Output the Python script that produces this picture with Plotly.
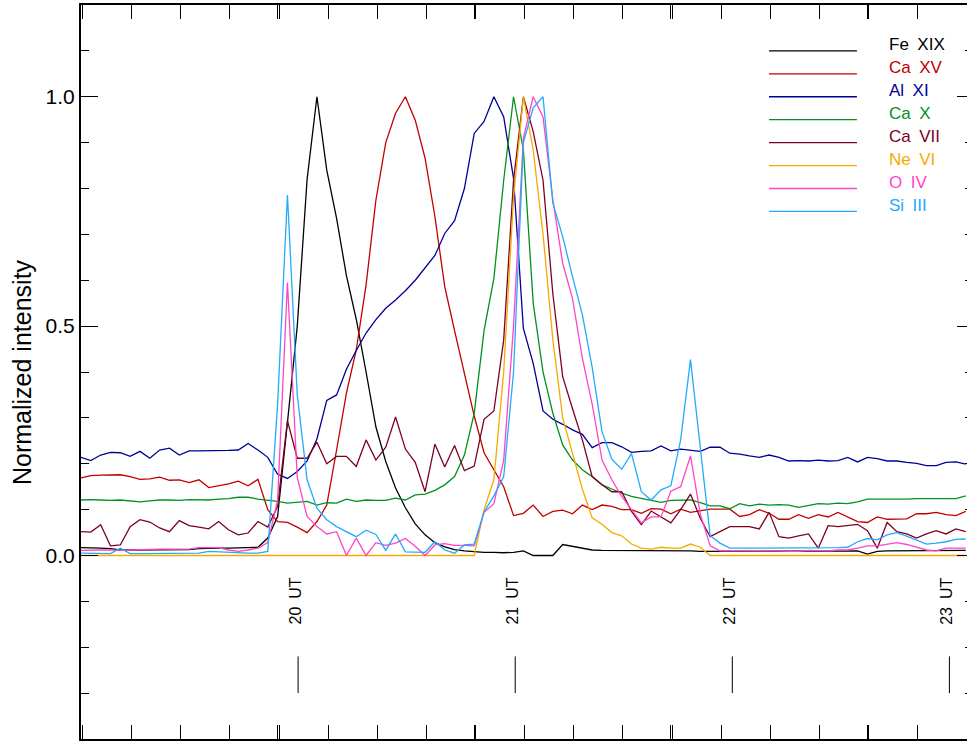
import plotly.graph_objects as go

# ---------------- data ----------------
start_ut = 19.0          # first sample (hours UT)
cadence_h = 0.04528      # sampling cadence in hours (~2.7 min)
n_samples = 91
times = [start_ut + i * cadence_h for i in range(n_samples)]

fe_xix = [0.017, 0.017, 0.016, 0.015, 0.012, 0.012, 0.012, 0.012, 0.012, 0.012,
          0.013, 0.013, 0.015, 0.016, 0.016, 0.016, 0.017, 0.017, 0.018, 0.038,
          0.085, 0.29, 0.50, 0.82, 1.0, 0.84, 0.735, 0.61, 0.515, 0.40,
          0.28, 0.205, 0.147, 0.104, 0.069, 0.045, 0.028, 0.019, 0.013, 0.010,
          0.008, 0.007, 0.007, 0.006, 0.007, 0.010, 0.0, 0.0, 0.0, 0.024,
          0.020, 0.015, 0.012, 0.011, 0.011, 0.010, 0.010, 0.010, 0.010, 0.010,
          0.010, 0.010, 0.010, 0.009, 0.009, 0.009, 0.009, 0.009, 0.009, 0.009,
          0.009, 0.009, 0.009, 0.009, 0.009, 0.009, 0.009, 0.009, 0.009, 0.010,
          0.003, 0.009, 0.010, 0.010, 0.010, 0.010, 0.010, 0.011, 0.011, 0.011, 0.011]

ca_xv = [0.169, 0.174, 0.175, 0.176, 0.176, 0.172, 0.166, 0.167, 0.171, 0.164,
         0.165, 0.159, 0.165, 0.148, 0.152, 0.156, 0.162, 0.152, 0.166, 0.10,
         0.074, 0.072, 0.062, 0.05, 0.074, 0.11, 0.23, 0.354, 0.448, 0.59,
         0.775, 0.90, 0.964, 1.0, 0.949, 0.866, 0.739, 0.586, 0.49, 0.394,
         0.304, 0.224, 0.187, 0.15, 0.087, 0.092, 0.11, 0.085, 0.096, 0.099,
         0.091, 0.11, 0.10, 0.11, 0.107, 0.10, 0.10, 0.092, 0.102, 0.101,
         0.091, 0.101, 0.094, 0.098, 0.101, 0.101, 0.101, 0.085, 0.089, 0.10,
         0.092, 0.079, 0.079, 0.089, 0.081, 0.089, 0.084, 0.094, 0.084, 0.074,
         0.072, 0.084, 0.079, 0.079, 0.08, 0.091, 0.091, 0.094, 0.089, 0.087, 0.096]

al_xi = [0.214, 0.207, 0.219, 0.225, 0.224, 0.216, 0.227, 0.212, 0.230, 0.234,
         0.219, 0.228, 0.228, 0.228, 0.228, 0.229, 0.230, 0.244, 0.230, 0.214,
         0.177, 0.168, 0.183, 0.206, 0.254, 0.338, 0.35, 0.406, 0.447, 0.485,
         0.514, 0.539, 0.557, 0.577, 0.60, 0.626, 0.654, 0.702, 0.73, 0.80,
         0.92, 0.946, 1.0, 0.956, 0.822, 0.495, 0.419, 0.315, 0.297, 0.286,
         0.274, 0.264, 0.235, 0.246, 0.246, 0.237, 0.225, 0.227, 0.228, 0.239,
         0.228, 0.232, 0.229, 0.227, 0.236, 0.236, 0.223, 0.221, 0.217, 0.214,
         0.219, 0.214, 0.206, 0.207, 0.206, 0.208, 0.206, 0.207, 0.214, 0.204,
         0.214, 0.211, 0.206, 0.206, 0.203, 0.201, 0.196, 0.196, 0.203, 0.204, 0.199]

ca_x = [0.121, 0.122, 0.121, 0.12, 0.121, 0.119, 0.117, 0.119, 0.121, 0.121,
        0.12, 0.122, 0.121, 0.121, 0.123, 0.124, 0.127, 0.127, 0.123, 0.121,
        0.118, 0.114, 0.116, 0.118, 0.11, 0.115, 0.114, 0.123, 0.118, 0.121,
        0.12, 0.12, 0.125, 0.121, 0.132, 0.134, 0.142, 0.154, 0.172, 0.219,
        0.31, 0.49, 0.604, 0.818, 1.0, 0.884, 0.55, 0.40, 0.31, 0.241,
        0.208, 0.187, 0.172, 0.154, 0.145, 0.136, 0.129, 0.125, 0.12, 0.116,
        0.12, 0.121, 0.121, 0.115, 0.108, 0.108, 0.102, 0.113, 0.108, 0.112,
        0.11, 0.111, 0.11, 0.105, 0.109, 0.113, 0.112, 0.114, 0.113, 0.117,
        0.123, 0.123, 0.122, 0.122, 0.123, 0.124, 0.124, 0.124, 0.125, 0.124, 0.13]

ca_vii = [0.052, 0.051, 0.067, 0.021, 0.023, 0.063, 0.078, 0.073, 0.060, 0.052,
          0.076, 0.065, 0.062, 0.058, 0.074, 0.056, 0.045, 0.049, 0.074, 0.062,
          0.107, 0.294, 0.212, 0.212, 0.247, 0.20, 0.216, 0.216, 0.194, 0.252,
          0.208, 0.236, 0.302, 0.232, 0.203, 0.139, 0.243, 0.193, 0.24, 0.185,
          0.195, 0.297, 0.315, 0.47, 0.818, 1.0, 0.924, 0.818, 0.57, 0.39,
          0.32, 0.252, 0.172, 0.154, 0.139, 0.139, 0.096, 0.067, 0.097, 0.084,
          0.071, 0.10, 0.134, 0.081, 0.041, 0.052, 0.063, 0.063, 0.063, 0.058,
          0.094, 0.041, 0.038, 0.043, 0.047, 0.016, 0.065, 0.063, 0.065, 0.068,
          0.054, 0.016, 0.072, 0.052, 0.047, 0.038, 0.047, 0.054, 0.047, 0.058, 0.052]

ne_vi = [0.0] * 41 + [
         0.10, 0.165, 0.40, 0.78, 1.0, 0.884, 0.70, 0.47, 0.30,
         0.22, 0.145, 0.082, 0.068, 0.05, 0.043, 0.025, 0.016, 0.014, 0.018,
         0.016, 0.016, 0.025, 0.018] + [0.0] * 27

o_iv = [0.011, 0.012, 0.012, 0.012, 0.011, 0.012, 0.013, 0.014, 0.014, 0.014,
        0.014, 0.014, 0.017, 0.017, 0.017, 0.012, 0.009, 0.012, 0.016, 0.028,
        0.12, 0.595, 0.17, 0.085, 0.063, 0.047, 0.052, 0.0, 0.038, 0.0,
        0.028, 0.022, 0.027, 0.037, 0.02, 0.0, 0.023, 0.026, 0.022, 0.022,
        0.021, 0.094, 0.113, 0.208, 0.50, 0.91, 1.0, 0.956, 0.775, 0.637,
        0.56, 0.43, 0.33, 0.208, 0.165, 0.129, 0.10, 0.071, 0.084, 0.084,
        0.14, 0.15, 0.217, 0.09, 0.021, 0.01, 0.01, 0.01, 0.011, 0.01,
        0.01, 0.01, 0.009, 0.009, 0.011, 0.01, 0.01, 0.012, 0.012, 0.016,
        0.021, 0.021, 0.024, 0.028, 0.024, 0.018, 0.012, 0.01, 0.016, 0.016, 0.016]

si_iii = [0.005, 0.005, 0.004, 0.004, 0.016, 0.004, 0.004, 0.004, 0.005, 0.005,
          0.005, 0.005, 0.005, 0.009, 0.008, 0.006, 0.005, 0.005, 0.005, 0.009,
          0.33, 0.786, 0.35, 0.165, 0.103, 0.078, 0.063, 0.052, 0.041, 0.055,
          0.046, 0.011, 0.047, 0.008, 0.007, 0.007, 0.03, 0.012, 0.005, 0.023,
          0.025, 0.095, 0.13, 0.172, 0.40, 0.90, 0.976, 1.0, 0.768, 0.695,
          0.608, 0.525, 0.41, 0.27, 0.21, 0.188, 0.222, 0.139, 0.121, 0.143,
          0.152, 0.252, 0.427, 0.24, 0.043, 0.027, 0.016, 0.016, 0.016, 0.016,
          0.016, 0.016, 0.016, 0.017, 0.017, 0.016, 0.016, 0.017, 0.018, 0.03,
          0.037, 0.034, 0.045, 0.05, 0.042, 0.034, 0.025, 0.027, 0.03, 0.035, 0.036]

line_names = ["Fe\u2002XIX", "Ca\u2002XV", "Al\u2002XI", "Ca\u2002X",
              "Ca\u2002VII", "Ne\u2002VI", "O\u2002IV", "Si\u2002III"]
series = [fe_xix, ca_xv, al_xi, ca_x, ca_vii, ne_vi, o_iv, si_iii]

ut_hours = [20, 21, 22, 23]
ut_labels = ["20\u2002UT", "21\u2002UT", "22\u2002UT", "23\u2002UT"]

# ---------------- style ----------------
colors = ["#000000", "#c00000", "#000096", "#00911e", "#7d0022", "#f5aa00", "#ff44c8", "#22aaff"]
x_range = [19.0, 23.081]
y_range = [-0.4, 1.2]
major_dx = 0.9051
font_main = "Liberation Sans, Arial, sans-serif"

fig = go.Figure()
for vals, col in zip(series, colors):
    fig.add_trace(go.Scatter(x=times, y=vals, mode="lines",
                             line=dict(color=col, width=1.3),
                             showlegend=False, hoverinfo="skip"))

# invisible trace to carry the right-hand tick axis
fig.add_trace(go.Scatter(x=[times[0]], y=[0], yaxis="y2", mode="lines",
                         showlegend=False, hoverinfo="skip"))

shapes = []
annotations = []

# legend (line samples + coloured labels)
leg_x0, leg_x1, leg_xt = 22.169, 22.574, 22.713
leg_y0, leg_dy = 1.1, 0.05
for k, (nm, col) in enumerate(zip(line_names, colors)):
    yk = leg_y0 - k * leg_dy
    shapes.append(dict(type="line", xref="x", yref="y", x0=leg_x0, x1=leg_x1,
                       y0=yk, y1=yk, line=dict(color=col, width=1.3)))
    annotations.append(dict(x=leg_xt, y=yk, xref="x", yref="y", text=nm,
                            showarrow=False, xanchor="left", yanchor="middle",
                            yshift=6, font=dict(family=font_main, size=17, color=col)))

# UT markers
for h, lab in zip(ut_hours, ut_labels):
    annotations.append(dict(x=h, y=-0.1, xref="x", yref="y", text=lab, textangle=-90,
                            showarrow=False, xanchor="center", yanchor="middle",
                            xshift=-3, font=dict(family=font_main, size=16, color="black")))
    shapes.append(dict(type="line", xref="x", yref="y", x0=h, x1=h, y0=-0.22, y1=-0.30,
                       line=dict(color="black", width=1)))

# y title
annotations.append(dict(x=0, y=0.5, xref="paper", yref="paper", text="Normalized intensity",
                        textangle=-90, showarrow=False, xanchor="center", yanchor="middle",
                        xshift=-59, font=dict(family=font_main, size=25, color="black")))

fig.update_layout(
    width=967, height=741,
    margin=dict(l=81, r=0, t=5, b=2),
    paper_bgcolor="white", plot_bgcolor="white",
    showlegend=False,
    shapes=shapes, annotations=annotations,
    xaxis=dict(range=x_range, showgrid=False, zeroline=False, showline=True,
               linecolor="black", linewidth=2, mirror="allticks",
               ticks="inside", ticklen=14, tickwidth=1, tickcolor="black",
               tick0=19.0, dtick=major_dx, showticklabels=False,
               minor=dict(ticks="inside", ticklen=7, tickwidth=1, tickcolor="black",
                          dtick=major_dx / 4, showgrid=False)),
    yaxis=dict(range=y_range, showgrid=False, zeroline=False, showline=True,
               linecolor="black", linewidth=2, mirror=False,
               ticks="inside", ticklen=17, tickwidth=1, tickcolor="black",
               tick0=0, dtick=0.5, tickformat=".1f",
               tickfont=dict(family=font_main, size=21, color="black"),
               minor=dict(ticks="inside", ticklen=8, tickwidth=1, tickcolor="black",
                          dtick=0.1, showgrid=False)),
    yaxis2=dict(range=y_range, overlaying="y", side="right", showgrid=False,
                zeroline=False, showline=False, ticks="inside", ticklen=10,
                tickwidth=1, tickcolor="black", tick0=0, dtick=0.5,
                showticklabels=False,
                minor=dict(ticks="inside", ticklen=2, tickwidth=1, tickcolor="black",
                           dtick=0.1, showgrid=False)),
)

fig.write_html("out.html", config={"displayModeBar": False},
               post_script="document.body.style.margin='0px';document.body.style.overflow='hidden';")
